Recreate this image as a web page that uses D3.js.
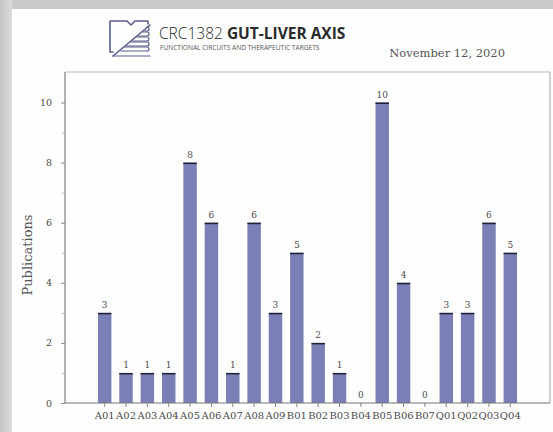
<!DOCTYPE html>
<html>
<head>
<meta charset="utf-8">
<script src="https://cdn.jsdelivr.net/npm/d3@7"></script>
<style>
  html, body { margin: 0; padding: 0; background: #cfcfcf; }
  svg { display: block; }
</style>
</head>
<body>
<svg id="chart" width="553" height="432"></svg>
<script>
const projects = ["A01", "A02", "A03", "A04", "A05", "A06", "A07", "A08", "A09", "B01",
                  "B02", "B03", "B04", "B05", "B06", "B07", "Q01", "Q02", "Q03", "Q04"];
const publications = [3, 1, 1, 1, 8, 6, 1, 6, 3, 5, 2, 1, 0, 10, 4, 0, 3, 3, 6, 5];
const yLabels = [0, 2, 4, 6, 8, 10];
const yMinor = [1, 3, 5, 7, 9];

const svg = d3.select("#chart");
const barColor = "#7b7fb6";
const textColor = "#4a4a4a";
const serif = "'DejaVu Serif', serif";

// page background with card
const defs = svg.append("defs");
const grad = defs.append("linearGradient").attr("id", "edge")
  .attr("x1", 0).attr("x2", 1).attr("y1", 0).attr("y2", 0);
grad.append("stop").attr("offset", 0).attr("stop-color", "#c4c4c4");
grad.append("stop").attr("offset", 1).attr("stop-color", "#dcdcdc");
svg.append("rect").attr("width", 553).attr("height", 432).attr("fill", "#cbcbcb");
svg.append("rect").attr("x", 0).attr("y", 0).attr("width", 12).attr("height", 432).attr("fill", "url(#edge)");
svg.append("rect").attr("x", 12).attr("y", 9).attr("width", 541).attr("height", 423).attr("fill", "#fefefe");

// logo
const logo = svg.append("g").attr("fill", "none").attr("stroke", "#5b5e8c")
  .attr("stroke-width", 1.6).attr("stroke-linecap", "round").attr("stroke-linejoin", "round");
logo.append("path").attr("d", "M148,24 L148,21 L135,21 L131,25 L127,21 L110,21 L110,52 L113,52");
logo.append("path").attr("d", "M113,56 L150,25");
[31, 36, 41, 46, 51].forEach((yy, i) => {
  const x0 = 113 + (56 - yy) * (37 / 31) + 2;
  logo.append("path").attr("d", `M${x0},${yy} L147,${yy} A2,2 0 0 0 147,${yy - 4} L${x0 + 4},${yy - 4}`)
    .attr("stroke-width", 1.2);
});
logo.append("path").attr("d", "M113,56 L150,56").attr("stroke-width", 1.2);

svg.append("text").attr("x", 159).attr("y", 39)
  .style("font-family", "'Open Sans', sans-serif").style("font-size", "15.5px").attr("fill", "#2b2b2b")
  .call(t => {
    t.append("tspan").text("CRC1382 ").style("font-weight", 300);
    t.append("tspan").text("GUT-LIVER AXIS").style("font-weight", 700);
  });
svg.append("text").attr("x", 160).attr("y", 50)
  .style("font-family", "'Open Sans', sans-serif").style("font-size", "6.6px").attr("fill", "#555")
  .text("FUNCTIONAL CIRCUITS AND THERAPEUTIC TARGETS");

svg.append("text").attr("x", 505).attr("y", 57).attr("text-anchor", "end")
  .style("font-family", serif).style("font-size", "11.5px").attr("fill", "#555")
  .text("November 12, 2020");

// chart area
const plotLeft = 65, plotRight = 550, plotTop = 72, plotBottom = 403;

const x = d3.scaleBand().domain(projects).range([94, 521]).paddingInner(0.37).paddingOuter(0.185);
const y = d3.scaleLinear().domain([0, 11]).range([plotBottom, plotBottom - 11 * 30.05]);

svg.append("line").attr("x1", plotLeft).attr("x2", plotRight).attr("y1", plotTop).attr("y2", plotTop)
  .attr("stroke", "#dcdcdc").attr("stroke-width", 2);
svg.append("line").attr("x1", plotRight).attr("x2", plotRight).attr("y1", plotTop).attr("y2", plotBottom)
  .attr("stroke", "#a0a0a0").attr("stroke-width", 1);

// bars
const bars = svg.append("g");
bars.selectAll("rect").data(publications).join("rect")
  .attr("x", (d, i) => x(projects[i]))
  .attr("y", d => y(d))
  .attr("width", x.bandwidth())
  .attr("height", d => y(0) - y(d))
  .attr("fill", barColor);
bars.selectAll("line").data(publications).join("line")
  .attr("x1", (d, i) => x(projects[i]))
  .attr("x2", (d, i) => x(projects[i]) + x.bandwidth())
  .attr("y1", d => y(d) + 0.75).attr("y2", d => y(d) + 0.75)
  .attr("stroke", d => d > 0 ? "#1f2033" : "none").attr("stroke-width", 1.5);
bars.selectAll("text").data(publications).join("text")
  .attr("x", (d, i) => x(projects[i]) + x.bandwidth() / 2)
  .attr("y", d => y(d) - 5)
  .attr("text-anchor", "middle")
  .style("font-family", serif).style("font-size", "9px").attr("fill", textColor)
  .text(d => d);

// axes
const yAxis = svg.append("g").attr("transform", `translate(${plotLeft},0)`)
  .call(d3.axisLeft(y).tickValues(yLabels).tickSize(4).tickPadding(9).tickFormat(d3.format("d")));
svg.append("g").attr("transform", `translate(${plotLeft},0)`)
  .call(d3.axisLeft(y).tickValues(yMinor).tickSize(3).tickFormat(""))
  .call(g => g.select(".domain").remove())
  .call(g => g.selectAll("line").attr("stroke", "#b5b5b5"));
yAxis.select(".domain").attr("d", `M0,${plotTop}V${plotBottom}`).attr("stroke", "#666");
yAxis.selectAll("line").attr("stroke", "#888");
yAxis.selectAll("text").style("font-family", serif).style("font-size", "9.5px").attr("fill", textColor);

const xAxis = svg.append("g").attr("transform", `translate(0,${plotBottom})`)
  .call(d3.axisBottom(x).tickSize(4).tickPadding(5));
xAxis.select(".domain").attr("d", `M${plotLeft},0H${plotRight}`).attr("stroke", "#777");
xAxis.selectAll("line").attr("stroke", "#888");
xAxis.selectAll("text").style("font-family", serif).style("font-size", "10px").attr("fill", textColor);

svg.append("text").attr("transform", "translate(32,255) rotate(-90)")
  .attr("text-anchor", "middle")
  .style("font-family", serif).style("font-size", "13px").attr("fill", "#555")
  .text("Publications");
</script>
</body>
</html>
